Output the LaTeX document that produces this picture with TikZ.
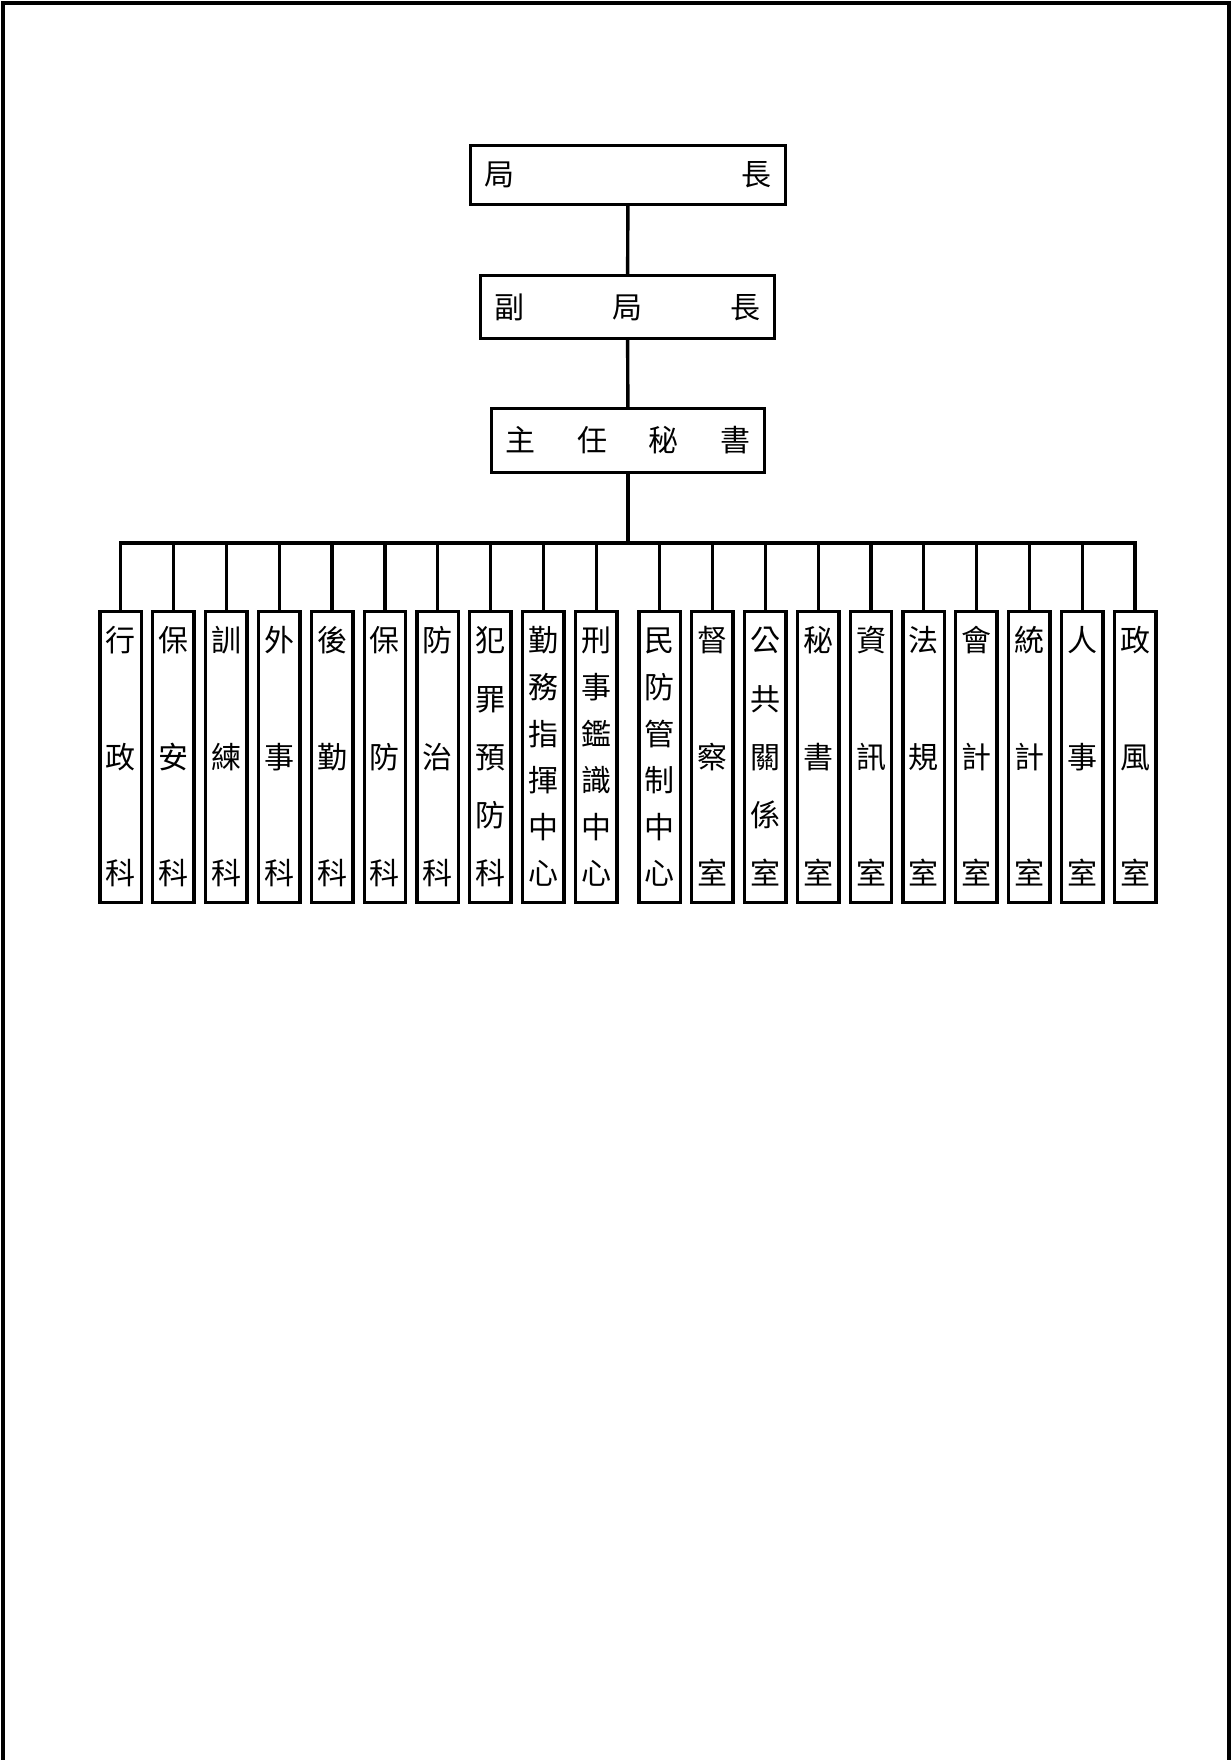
\documentclass[tikz,border=0pt]{standalone}
\usepackage{fontspec}
\setmainfont{Noto Sans CJK TC}
% one character per line, spread over the height of a column box
\newcommand\vlabel[1]{\vbox to 131.5pt{\offinterlineskip
  \foreach \ch [count=\n] in {#1}{\ifnum\n>1 \vfill\fi
    \hbox to 20.7pt{\hss\vrule width 0pt height 13.2pt depth 1.8pt\ch\hss}}\kern0pt}}

\begin{document}
\begin{tikzpicture}[x=0.5pt, y=-0.5pt,
  font=\fontsize{15pt}{18pt}\selectfont,
  head/.style={draw, line width=1.7pt, inner sep=0pt},
  column/.style={draw, line width=1.7pt, inner sep=0pt,
    minimum width=20.5pt, minimum height=145.3pt},
  link/.style={line width=1.7pt}]
  \useasboundingbox (0,0) rectangle (1231,1760);
  % page frame, open at the bottom
  \draw[line width=2pt] (2.5,1760) -- (2.5,3.3) -- (1228.7,3.3) -- (1228.7,1760);
  % top of the chart
  \node[head, minimum width=157.3pt, minimum height=29.3pt] (chief) at (628,175)
    {\makebox[143.4pt][s]{局\hfill 長}};
  \node[head, minimum width=146.8pt, minimum height=31.3pt] (deputy) at (627.5,307)
    {\makebox[133pt][s]{副\hfill 局\hfill 長}};
  \node[head, minimum width=136.3pt, minimum height=31.8pt] (secretary) at (628,440.5)
    {\makebox[122.5pt][s]{主\hfill 任\hfill 秘\hfill 書}};
  \coordinate (bus) at (628,543);
  % sections and centres
  \node[column] (admin) at (120.5,757) {\vlabel{行,政,科}};
  \node[column] (peace) at (173.3,757) {\vlabel{保,安,科}};
  \node[column] (training) at (226.4,757) {\vlabel{訓,練,科}};
  \node[column] (foreign) at (279.2,757) {\vlabel{外,事,科}};
  \node[column] (logistics) at (332.1,757) {\vlabel{後,勤,科}};
  \node[column] (counterint) at (384.9,757) {\vlabel{保,防,科}};
  \node[column] (prevention) at (437.7,757) {\vlabel{防,治,科}};
  \node[column] (crimeprev) at (490.2,757) {\vlabel{犯,罪,預,防,科}};
  \node[column] (command) at (543.2,757) {\vlabel{勤,務,指,揮,中,心}};
  \node[column] (forensic) at (596.4,757) {\vlabel{刑,事,鑑,識,中,心}};
  \node[column] (civildef) at (659.7,757) {\vlabel{民,防,管,制,中,心}};
  \node[column] (inspect) at (712.4,757) {\vlabel{督,察,室}};
  \node[column] (pr) at (765.3,757) {\vlabel{公,共,關,係,室}};
  \node[column] (secretariat) at (818.2,757) {\vlabel{秘,書,室}};
  \node[column] (info) at (871,757) {\vlabel{資,訊,室}};
  \node[column] (legal) at (923.5,757) {\vlabel{法,規,室}};
  \node[column] (account) at (976.4,757) {\vlabel{會,計,室}};
  \node[column] (stats) at (1029.3,757) {\vlabel{統,計,室}};
  \node[column] (personnel) at (1082.2,757) {\vlabel{人,事,室}};
  \node[column] (ethics) at (1135.1,757) {\vlabel{政,風,室}};
  % connectors
  \draw[link] (chief) -- (deputy);
  \draw[link] (deputy) -- (secretary);
  \draw[link] (secretary) -- (bus);
  \draw[link] (admin.north) |- (bus);
  \draw[link] (peace.north) |- (bus);
  \draw[link] (training.north) |- (bus);
  \draw[link] (foreign.north) |- (bus);
  \draw[link] (logistics.north) |- (bus);
  \draw[link] (counterint.north) |- (bus);
  \draw[link] (prevention.north) |- (bus);
  \draw[link] (crimeprev.north) |- (bus);
  \draw[link] (command.north) |- (bus);
  \draw[link] (forensic.north) |- (bus);
  \draw[link] (civildef.north) |- (bus);
  \draw[link] (inspect.north) |- (bus);
  \draw[link] (pr.north) |- (bus);
  \draw[link] (secretariat.north) |- (bus);
  \draw[link] (info.north) |- (bus);
  \draw[link] (legal.north) |- (bus);
  \draw[link] (account.north) |- (bus);
  \draw[link] (stats.north) |- (bus);
  \draw[link] (personnel.north) |- (bus);
  \draw[link] (ethics.north) |- (bus);
\end{tikzpicture}
\end{document}
